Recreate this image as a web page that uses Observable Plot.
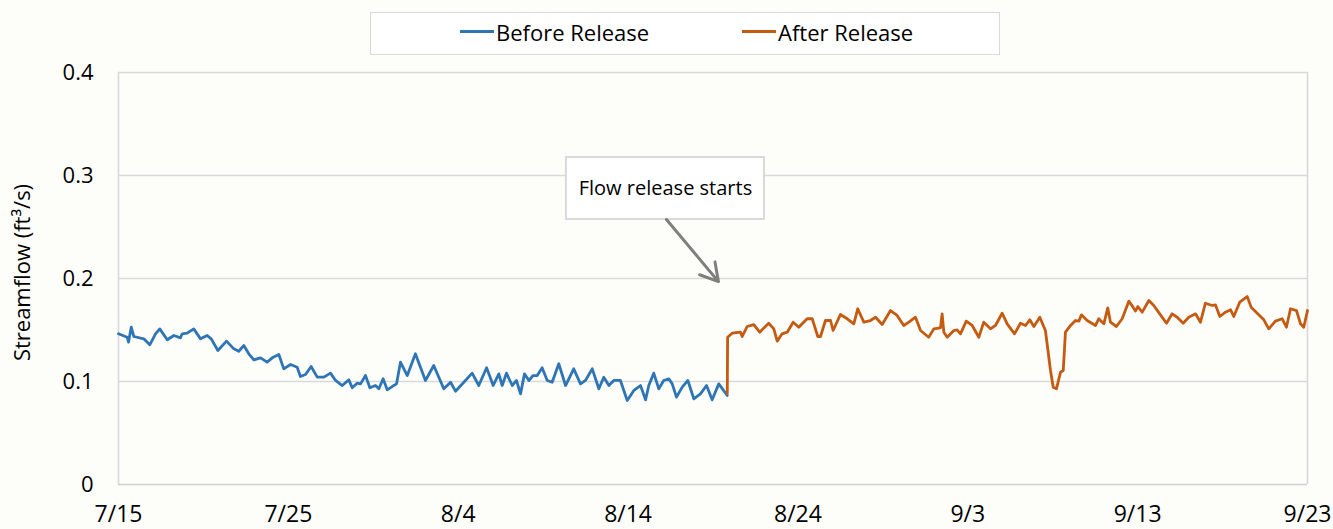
<!DOCTYPE html>
<html>
<head>
<meta charset="utf-8">
<script src="https://cdn.jsdelivr.net/npm/d3@7"></script>
<script src="https://cdn.jsdelivr.net/npm/@observablehq/plot@0.6"></script>
<style>
  html, body { margin: 0; padding: 0; background: #fdfdfa; overflow: hidden; }
  #wrap { position: relative; width: 1333px; height: 529px; font-family: "Open Sans", sans-serif; color: #000; }
  #legend { position: absolute; left: 370px; top: 12px; width: 628px; height: 41px; border: 1.5px solid #d9d9d9; background: #fff; z-index: 2; }
  #legend .item { position: absolute; top: -2px; height: 41px; display: flex; align-items: center; font-size: 22px; white-space: nowrap; }
  #legend .swatch { display: inline-block; width: 34px; height: 3px; margin-right: 2px; }
  #chart { position: absolute; left: 0; top: 0; }
  #chart svg { display: block; }
</style>
</head>
<body>
<div id="wrap">
  <div id="chart"></div>
  <div id="legend"></div>
</div>
<script>
// ---- data (days since 7/15, streamflow ft³/s) ----
const seriesNames = ["Before Release", "After Release"];
const seriesColors = ["#2e75b6", "#c55a11"];

const beforeDay = [0,0.51,0.59,0.75,0.90,1.49,1.84,2.18,2.43,2.87,
  3.26,3.65,3.75,4.04,4.43,4.83,5.22,5.46,5.85,6.36,
  6.79,7.08,7.38,7.67,7.97,8.36,8.75,9.05,9.44,9.73,
  10.13,10.52,10.71,11.01,11.34,11.7,12.09,12.48,12.78,13.17,
  13.56,13.76,14.05,14.25,14.54,14.8,15.13,15.33,15.58,15.82,
  16.11,16.37,16.6,17.0,17.48,18.07,18.56,19.15,19.55,19.84,
  20.33,20.82,21.21,21.67,22.06,22.39,22.59,22.84,23.18,23.43,
  23.67,23.9,24.16,24.41,24.65,24.94,25.24,25.53,25.92,26.32,
  26.8,27.2,27.49,27.89,28.28,28.57,28.87,29.16,29.55,29.95,
  30.34,30.73,31.03,31.22,31.51,31.81,32.1,32.4,32.6,32.85,
  33.19,33.52,33.87,34.26,34.62,34.95,35.34,35.84];
const beforeFlow = [.1463,.1430,.1382,.1527,.1437,.1414,.1356,.1463,.1511,.1405,
  .1447,.1424,.1463,.1469,.1511,.1414,.1447,.1414,.1301,.1392,
  .1317,.1294,.1350,.1269,.1210,.1230,.1188,.1230,.1262,.1123,
  .1165,.1139,.1049,.1068,.1146,.1042,.1042,.1081,.1010,.0961,
  .1016,.0939,.0984,.0977,.1058,.0939,.0961,.0929,.1026,.0919,
  .0951,.0977,.1188,.1058,.1269,.1010,.1155,.0929,.0993,.0906,
  .0993,.1081,.0961,.1133,.0961,.1074,.0961,.1081,.0961,.1010,
  .0880,.1074,.1010,.1058,.1058,.1133,.1010,.0993,.1172,.0961,
  .1123,.0977,.1010,.1123,.0929,.1042,.0961,.1010,.1010,.0816,
  .0913,.0961,.0822,.0961,.1081,.0929,.1010,.1026,.0977,.0848,
  .0945,.1010,.0832,.0880,.0961,.0822,.0977,.0864];

const afterDay = [35.84,35.86,36.13,36.62,36.72,37.01,37.4,37.75,38.28,38.58,
  38.78,39.07,39.37,39.72,40.05,40.25,40.54,40.84,41.17,41.33,
  41.62,41.92,42.07,42.5,42.9,43.29,43.52,43.88,44.27,44.57,
  44.96,45.45,45.84,46.23,46.53,46.92,47.22,47.7,48.0,48.39,
  48.49,48.59,48.79,49.18,49.37,49.57,49.91,50.26,50.65,50.94,
  51.34,51.63,52.02,52.32,52.75,53.1,53.4,53.65,53.89,54.24,
  54.57,54.87,55.03,55.22,55.46,55.62,55.75,56.05,56.34,56.54,
  56.69,57.03,57.52,57.71,58.01,58.24,58.4,58.75,59.09,59.48,
  59.73,59.87,60.01,60.27,60.66,60.95,61.3,61.7,62.03,62.33,
  62.68,63.01,63.41,63.7,63.99,64.39,64.58,64.84,65.17,65.47,
  65.66,66.01,66.45,66.68,67.04,67.43,67.72,68.11,68.51,68.76,
  69.0,69.35,69.59,69.78,70];
const afterFlow = [.0880,.1430,.1469,.1479,.1437,.1534,.1553,.1479,.1566,.1511,
  .1392,.1463,.1479,.1576,.1527,.1560,.1609,.1609,.1437,.1437,
  .1592,.1592,.1495,.1650,.1609,.1560,.1706,.1576,.1592,.1624,
  .1553,.1689,.1641,.1544,.1576,.1624,.1495,.1430,.1511,.1521,
  .1657,.1479,.1430,.1495,.1502,.1463,.1586,.1544,.1430,.1576,
  .1511,.1544,.1663,.1560,.1463,.1566,.1544,.1599,.1534,.1624,
  .1495,.1107,.0945,.0929,.1090,.1107,.1479,.1544,.1592,.1586,
  .1647,.1592,.1544,.1609,.1560,.1715,.1576,.1534,.1609,.1780,
  .1722,.1683,.1728,.1673,.1786,.1738,.1657,.1566,.1657,.1624,
  .1566,.1624,.1657,.1576,.1760,.1738,.1744,.1631,.1673,.1696,
  .1631,.1770,.1825,.1722,.1663,.1599,.1511,.1586,.1609,.1527,
  .1706,.1689,.1560,.1527,.1689];

const xTickDays = [0, 10, 20, 30, 40, 50, 60, 70];
const yTicks = [0, 0.1, 0.2, 0.3, 0.4];
const yTitle = "Streamflow (ft³/s)";

// annotation (data coordinates)
const annText = "Flow release starts";
const annBoxDays = [26.37, 38.03];
const annBoxFlow = [0.2573, 0.3175];
const annArrowFrom = [32.26, 0.2573];
const annArrowTo = [35.32, 0.197];

// ---- build ----
const start = new Date(2019, 6, 15);
const toDate = d => new Date(start.getTime() + d * 864e5);
const before = beforeDay.map((d, i) => ({date: toDate(d), flow: beforeFlow[i]}));
const after = afterDay.map((d, i) => ({date: toDate(d), flow: afterFlow[i]}));

// legend
const box = document.getElementById("legend");
const legendLeft = [89, 371];
seriesNames.forEach((name, i) => {
  const it = document.createElement("div");
  it.className = "item";
  it.style.left = legendLeft[i] + "px";
  it.innerHTML = `<span class="swatch" style="background:${seriesColors[i]}"></span><span>${name}</span>`;
  box.appendChild(it);
});

const chart = Plot.plot({
  width: 1333,
  height: 529,
  marginTop: 72,
  marginBottom: 45,
  marginLeft: 118,
  marginRight: 26,
  style: {background: "transparent", fontFamily: "'Open Sans', sans-serif", fontSize: "23px", color: "#000"},
  x: {type: "time", domain: [toDate(0), toDate(70)]},
  y: {domain: [0, 0.4]},
  marks: [
    Plot.ruleY(yTicks.filter(v => v > 0), {stroke: "#d9d9d9", strokeWidth: 1.4}),
    Plot.ruleY([0], {stroke: "#d0d0d0", strokeWidth: 1.6}),
    Plot.ruleX([toDate(0), toDate(70)], {stroke: "#d9d9d9", strokeWidth: 1.6}),
    Plot.axisY({ticks: yTicks, tickSize: 0, tickPadding: 25, fontSize: 22, tickFormat: d => d === 0 ? "0" : d.toFixed(1), label: null}),
    Plot.axisX({ticks: xTickDays.map(toDate), tickSize: 0, tickPadding: 21,
      tickFormat: d => `${d.getMonth() + 1}/${d.getDate()}`, label: null}),
    Plot.text([yTitle], {frameAnchor: "left", textAnchor: "middle", rotate: -90, dx: -96, dy: -6, fontSize: 22, fill: "#000"}),
    Plot.line(before, {x: "date", y: "flow", stroke: seriesColors[0], strokeWidth: 2.8, strokeLinejoin: "round"}),
    Plot.line(after, {x: "date", y: "flow", stroke: seriesColors[1], strokeWidth: 2.8, strokeLinejoin: "round"}),
    Plot.rect([0], {x1: () => toDate(annBoxDays[0]), x2: () => toDate(annBoxDays[1]),
      y1: () => annBoxFlow[0], y2: () => annBoxFlow[1], fill: "#fff", stroke: "#d9d9d9", strokeWidth: 2}),
    Plot.text([annText], {x: () => toDate((annBoxDays[0] + annBoxDays[1]) / 2),
      y: () => (annBoxFlow[0] + annBoxFlow[1]) / 2, fontSize: 20, fill: "#000"}),
    Plot.arrow([0], {x1: () => toDate(annArrowFrom[0]), y1: () => annArrowFrom[1],
      x2: () => toDate(annArrowTo[0]), y2: () => annArrowTo[1],
      stroke: "#7f7f7f", strokeWidth: 3, headLength: 10})
  ]
});
document.getElementById("chart").appendChild(chart);
</script>
</body>
</html>
